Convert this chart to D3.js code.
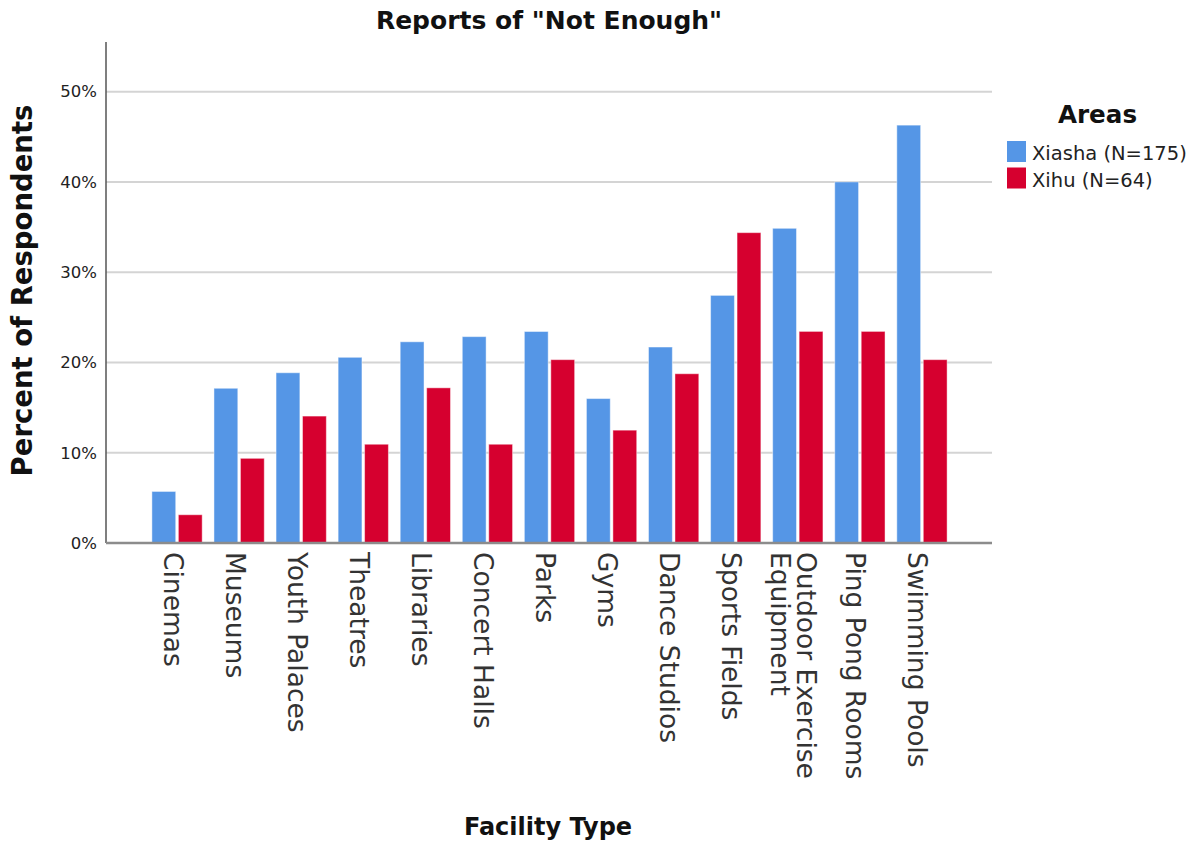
<!DOCTYPE html>
<html>
<head>
<meta charset="utf-8">
<script src="https://cdn.jsdelivr.net/npm/d3@7/dist/d3.min.js"></script>
<style>
  html, body { margin: 0; padding: 0; background: #fff; }
  svg { display: block; }
</style>
</head>
<body>
<svg id="chart" width="1195" height="843"></svg>
<script>
// ---- data ----
const categories = ["Cinemas", "Museums", "Youth Palaces", "Theatres", "Libraries", "Concert Halls",
  "Parks", "Gyms", "Dance Studios", "Sports Fields", "Outdoor Exercise\nEquipment", "Ping Pong Rooms", "Swimming Pools"];
const seriesNames = ["Xiasha (N=175)", "Xihu (N=64)"];
const xiasha = [5.71, 17.14, 18.86, 20.57, 22.29, 22.86, 23.43, 16.00, 21.71, 27.43, 34.86, 40.00, 46.29];
const xihu   = [3.13, 9.38, 14.06, 10.94, 17.19, 10.94, 20.31, 12.50, 18.75, 34.38, 23.44, 23.44, 20.31];
const yTicks = [0, 10, 20, 30, 40, 50];
const seriesColors = ["#5596e6", "#d6002f"];

const titleText = 'Reports of "Not Enough"';
const xTitle = "Facility Type";
const yTitle = "Percent of Respondents";
const legendTitle = "Areas";

// ---- layout ----
const plot = { left: 106, right: 992, top: 42, bottom: 543 };
const svg = d3.select("#chart");
const FONT = "'DejaVu Sans', sans-serif";

const x = d3.scaleBand().domain(categories)
  .range([plot.left + 40, plot.right - 39])
  .paddingInner(0.19).paddingOuter(0.095);
const xi = d3.scaleBand().domain(d3.range(seriesNames.length))
  .range([0, x.bandwidth()]).paddingInner(0.1);
const y = d3.scaleLinear().domain([0, 55.5]).range([plot.bottom, plot.top]);

// gridlines
svg.append("g").selectAll("line")
  .data(yTicks.filter(d => d > 0)).join("line")
  .attr("x1", plot.left).attr("x2", plot.right)
  .attr("y1", d => y(d)).attr("y2", d => y(d))
  .attr("stroke", "#d4d4d4").attr("stroke-width", 2);

// bars
const rows = categories.map((c, i) => ({ cat: c, vals: [xiasha[i], xihu[i]] }));
const groups = svg.append("g").selectAll("g").data(rows).join("g")
  .attr("transform", d => `translate(${x(d.cat)},0)`);
groups.selectAll("rect").data(d => d.vals.map((v, k) => ({ v, k }))).join("rect")
  .attr("x", d => xi(d.k)).attr("width", xi.bandwidth())
  .attr("y", d => y(d.v)).attr("height", d => y(0) - y(d.v))
  .attr("fill", d => seriesColors[d.k])
  .attr("stroke", "rgba(255,255,255,0.45)").attr("stroke-width", 1);

// y axis
const yAxis = svg.append("g").attr("transform", `translate(${plot.left},0)`)
  .call(d3.axisLeft(y).tickValues(yTicks).tickSize(0).tickPadding(9).tickFormat(d => d + "%"));
yAxis.select(".domain").remove();
yAxis.selectAll("text").attr("font-family", FONT).attr("font-size", 16.5).attr("fill", "#222");
svg.append("line").attr("x1", plot.left).attr("x2", plot.left)
  .attr("y1", plot.top).attr("y2", plot.bottom)
  .attr("stroke", "#555").attr("stroke-width", 1.5);

// x axis line
svg.append("line").attr("x1", plot.left).attr("x2", plot.right)
  .attr("y1", plot.bottom).attr("y2", plot.bottom)
  .attr("stroke", "#8c8c8c").attr("stroke-width", 2.5);

// x category labels (rotated 90deg)
const lh = 26;
const xl = svg.append("g").selectAll("text").data(categories).join("text")
  .attr("transform", d => `translate(${x(d) + x.bandwidth() / 2 - 13.5},552) rotate(90)`)
  .attr("font-family", FONT).attr("font-size", 26.5).attr("fill", "#333")
  .attr("text-anchor", "start");
xl.each(function (d) {
  const lines = d.split("\n");
  const t = d3.select(this);
  lines.forEach((ln, j) => {
    t.append("tspan").attr("x", 0)
      .attr("dy", j === 0 ? -(lines.length - 1) * lh / 2 : lh)
      .text(ln);
  });
});

// titles
svg.append("text").attr("x", 549).attr("y", 28.5).attr("text-anchor", "middle")
  .attr("font-family", FONT).attr("font-weight", "bold").attr("font-size", 25)
  .attr("fill", "#111").text(titleText);
svg.append("text").attr("x", 548).attr("y", 835).attr("text-anchor", "middle")
  .attr("font-family", FONT).attr("font-weight", "bold").attr("font-size", 24)
  .attr("fill", "#111").text(xTitle);
svg.append("text").attr("transform", "translate(32,290.5) rotate(-90)").attr("text-anchor", "middle")
  .attr("font-family", FONT).attr("font-weight", "bold").attr("font-size", 27.5)
  .attr("fill", "#111").text(yTitle);

// legend
const lg = svg.append("g");
lg.append("text").attr("x", 1097.5).attr("y", 123).attr("text-anchor", "middle")
  .attr("font-family", FONT).attr("font-weight", "bold").attr("font-size", 24.6)
  .attr("fill", "#111").text(legendTitle);
const items = lg.selectAll("g.item").data(seriesNames).join("g").attr("class", "item")
  .attr("transform", (d, i) => `translate(1007,${141 + i * 26.5})`);
items.append("rect").attr("width", 19).attr("height", 21)
  .attr("fill", (d, i) => seriesColors[i]);
items.append("text").attr("x", 25).attr("y", 19)
  .attr("font-family", FONT).attr("font-size", 19.5).attr("fill", "#222").text(d => d);
</script>
</body>
</html>
